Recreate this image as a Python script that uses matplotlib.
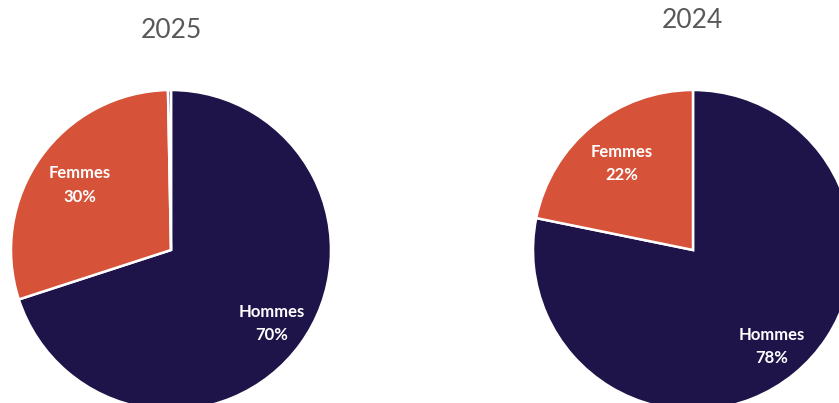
import matplotlib.pyplot as plt

plt.rcParams['font.family'] = ['Lato', 'DejaVu Sans']

# 2025 : Hommes, Femmes, non renseigné (fine tranche)
labels_2025 = ['Hommes', 'Femmes', '']
values_2025 = [70.0, 29.7, 0.3]

# 2024
labels_2024 = ['Hommes', 'Femmes']
values_2024 = [78.2, 21.8]

colors = ['#1E144A', '#D65238', '#1E144A']
label_dist = {'Hommes': 0.78, 'Femmes': 0.70, '': 0.7}
W, H = 839, 403


def draw_pie(ax, labels, values):
    total = sum(values)
    texts = []
    for lab, v in zip(labels, values):
        texts.append(f"{lab}\n{v / total:.0%}" if lab else '')
    wedges, txt = ax.pie(values, labels=texts, colors=colors[:len(values)],
                         startangle=90, counterclock=False,
                         labeldistance=1.0,
                         wedgeprops=dict(edgecolor='white', linewidth=1.8),
                         textprops=dict(color='white', fontsize=12,
                                        fontweight='bold', ha='center',
                                        va='center', linespacing=1.55))
    # Excel "best fit" : distance différente selon la part
    for t, lab in zip(txt, labels):
        x, y = t.get_position()
        k = label_dist[lab]
        t.set_position((x * k, y * k))
        t.set_ha('center')
    ax.set_xlim(-1, 1)
    ax.set_ylim(-1, 1)
    ax.set_aspect('equal')
    return wedges


fig = plt.figure(figsize=(W / 100, H / 100), dpi=100)

# left pie : centre (171, 250), rayon 160 px
ax1 = fig.add_axes([11 / W, (H - 410) / H, 320 / W, 320 / H])
draw_pie(ax1, labels_2025, values_2025)

# right pie : centre (693, 250)
ax2 = fig.add_axes([533 / W, (H - 410) / H, 320 / W, 320 / H])
draw_pie(ax2, labels_2024, values_2024)

fig.text(171 / W, 1 - 31 / H, '2025', ha='center', va='center',
         fontsize=19, color='#595959')
fig.text(692 / W, 1 - 20 / H, '2024', ha='center', va='center',
         fontsize=19, color='#595959')

fig.savefig('out.png', dpi=100)
